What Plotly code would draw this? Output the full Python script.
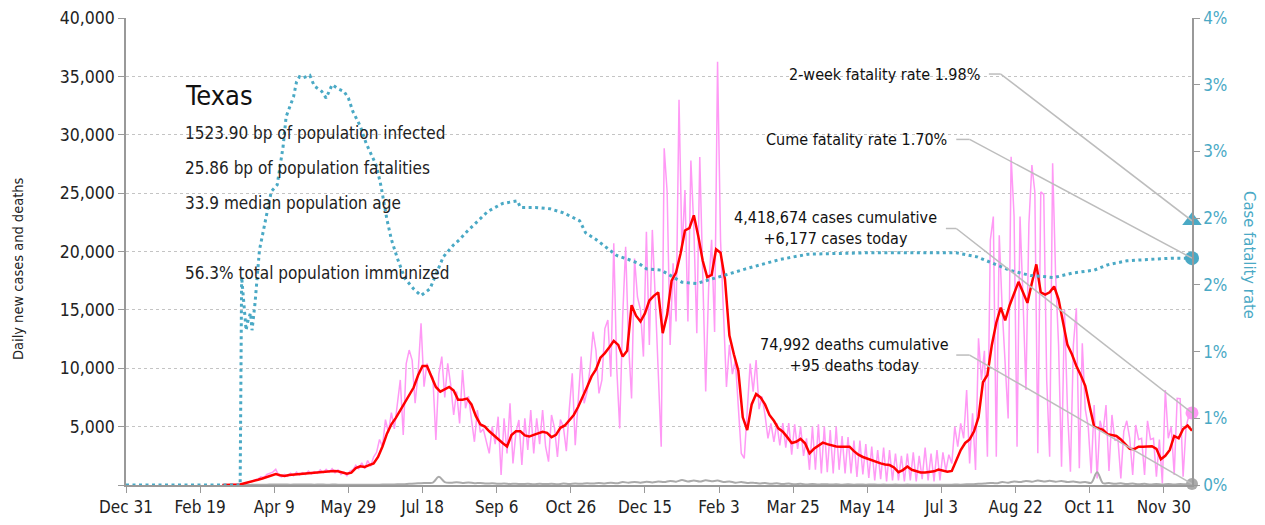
import pandas as pd
import plotly.graph_objects as go

# ---------------- data ----------------
# daily new cases, one sample every 2 days starting 2020-03-05
cases_start = "2020-03-05"
cases_daily = [
    0, 0, 5, 10, 20, 40, 60, 100, 150, 200,
    300, 450, 500, 700, 650, 900, 1000, 1100, 1340, 800,
    700, 900, 750, 1000, 800, 1100, 850, 1050, 900, 1200,
    950, 1150, 1000, 1300, 1050, 1350, 1100, 1400, 1050, 1300,
    900, 1100, 800, 1200, 1300, 1700, 1400, 1900, 1400, 2100,
    1600, 2400, 2800, 3900, 3300, 5600, 4500, 6200, 4800, 7000,
    9000, 4280, 10400, 11560, 10700, 7000, 9560, 13850, 8420, 10400,
    9600, 9200, 3850, 9500, 11000, 7500, 10420, 8600, 6000, 8000,
    5280, 9850, 6570, 7600, 5600, 3700, 6420, 4500, 4800, 3800,
    2710, 5000, 3500, 5850, 860, 5710, 2700, 7000, 1850, 4500,
    5570, 1710, 5710, 3000, 6420, 2700, 5710, 3500, 6420, 3300,
    2000, 6000, 4900, 2400, 5600, 5000, 2900, 6500, 9560, 3400,
    7000, 11000, 7000, 8000, 10000, 13130, 11500, 7850, 9000, 13400,
    14130, 9280, 20700, 10000, 4850, 14400, 20400, 12000, 7420, 19400,
    16100, 15000, 11000, 21700, 12000, 21850, 16000, 9000, 3280, 28840,
    25100, 12000, 19000, 14000, 33000, 20000, 25270, 14000, 27800, 22000,
    13000, 28100, 19000, 8000, 17000, 21000, 13100, 36260, 21000, 14000,
    8400, 12000, 9500, 10700, 6500, 2700, 2280, 6000, 10400, 8000,
    10700, 6500, 7570, 6000, 4000, 5280, 3700, 5300, 3400, 5300,
    3200, 5300, 2600, 5200, 3100, 5000, 2500, 4000, 1300, 5000,
    1300, 5200, 1000, 5000, 1100, 4700, 1000, 5000, 1300, 4200,
    1000, 4100, 1000, 3800, 700, 3800, 900, 3500, 600, 3300,
    400, 3000, 500, 3200, 300, 3000, 400, 2700, 400, 2500,
    300, 2700, 400, 2800, 300, 2500, 500, 3200, 400, 2700,
    300, 3000, 400, 2800, 1200, 2600, 1850, 5000, 3280, 5280,
    4000, 8140, 1850, 6140, 1280, 12560, 9000, 11500, 2430, 21000,
    23000, 2430, 21400, 15000, 10500, 5700, 28120, 23000, 3280, 23000,
    16000, 8140, 22400, 27400, 25100, 2710, 25100, 24900, 9000, 2430,
    27550, 18000, 12000, 1570, 15000, 6500, 1140, 12000, 15130, 1430,
    12130, 6500, 5000, 1000, 6850, 570, 5500, 4500, 6850, 1200,
    6000, 3800, 4000, 570, 4600, 5500, 4000, 860, 5140, 3900,
    4000, 860, 5500, 3900, 4000, 710, 3900, 140, 8140, 4000,
    5000, 860, 7420, 7400, 710, 5000, 6000, 6177,
]

# 7-day average of new cases, one sample every 3 days starting 2020-03-05
avg_start = "2020-03-05"
cases_avg = [
    0, 0, 10, 30, 50, 150, 230, 330, 450, 560,
    700, 850, 930, 830, 780, 850, 890, 920, 950, 980,
    1010, 1050, 1090, 1150, 1190, 1200, 1170, 1070, 960, 1060,
    1450, 1600, 1550, 1700, 1850, 2400, 3300, 4400, 5200, 5750,
    6400, 7050, 7750, 8350, 9400, 10200, 10200, 9300, 8400, 8000,
    8200, 8400, 8100, 7300, 7300, 7400, 6900, 5900, 5200, 5000,
    4600, 4250, 3950, 3600, 3300, 4280, 4600, 4600, 4250, 4150,
    4300, 4450, 4560, 4470, 4100, 4300, 4900, 5100, 5600, 6000,
    6700, 7500, 8400, 9300, 9900, 10900, 11300, 11800, 12350, 12000,
    11000, 11500, 15400, 14500, 14000, 14700, 15800, 16200, 16500, 13000,
    14600, 17500, 18200, 19800, 21800, 22000, 23100, 21300, 19200, 17800,
    18000, 20200, 19900, 17600, 12800, 11200, 9800, 5800, 4700, 6900,
    7800, 7500, 6900, 6000, 5500, 4850, 4570, 4100, 3600, 3700,
    3950, 3570, 2710, 3100, 3400, 3630, 3500, 3400, 3300, 3280,
    3300, 3280, 2900, 2600, 2400, 2250, 2150, 2000, 1850, 1750,
    1710, 1500, 1100, 1280, 1580, 1300, 1170, 1080, 1070, 1110,
    1170, 1320, 1250, 1140, 1200, 2140, 3000, 3600, 3900, 4600,
    5800, 8800, 9420, 12000, 13900, 15200, 14100, 15400, 16400, 17400,
    16500, 15600, 17300, 18900, 16500, 16300, 16500, 17000, 15900, 14000,
    12000, 11200, 10200, 9400, 8500, 6700, 5000, 4850, 4720, 4350,
    4280, 4200, 3900, 3500, 3100, 3070, 3280, 3280, 3300, 3320,
    3100, 2200, 2500, 3000, 4200, 4000, 4800, 5100, 4650,
]

# daily deaths, one sample every 4 days starting 2020-03-07
deaths_start = "2020-03-07"
deaths_daily = [
    0, 0, 0, 5, 10, 15, 25, 30, 40, 35,
    40, 30, 45, 35, 40, 30, 40, 25, 35, 30,
    30, 20, 25, 20, 30, 25, 30, 35, 40, 60,
    60, 100, 130, 150, 180, 200, 700, 250, 200, 230,
    180, 220, 150, 180, 120, 150, 100, 130, 90, 110,
    80, 110, 70, 100, 80, 110, 70, 120, 90, 130,
    100, 150, 120, 170, 130, 200, 150, 250, 200, 260,
    200, 280, 220, 300, 250, 350, 280, 420, 300, 380,
    300, 400, 320, 380, 260, 300, 200, 250, 170, 200,
    130, 170, 100, 140, 80, 120, 60, 100, 50, 80,
    40, 70, 40, 60, 30, 55, 30, 50, 25, 45,
    20, 40, 20, 35, 15, 35, 15, 30, 15, 30,
    15, 30, 20, 40, 30, 60, 60, 110, 120, 180,
    150, 250, 200, 300, 250, 350, 280, 380, 300, 360,
    280, 340, 250, 300, 220, 260, 180, 1100, 150, 170,
    100, 140, 80, 120, 60, 100, 50, 90, 40, 80,
    50, 90, 60, 95,
]

# cumulative case fatality rate (%)
cfr_dates = [
    "2019-12-31", "2020-03-17", "2020-03-18", "2020-03-20", "2020-03-21", "2020-03-22",
    "2020-03-24", "2020-03-25", "2020-03-27", "2020-03-30", "2020-04-03", "2020-04-05",
    "2020-04-07", "2020-04-11", "2020-04-15", "2020-04-17", "2020-04-22", "2020-04-24",
    "2020-04-26", "2020-04-28", "2020-05-03", "2020-05-06", "2020-05-11", "2020-05-14",
    "2020-05-18", "2020-05-22", "2020-05-26", "2020-05-29", "2020-06-01", "2020-06-06",
    "2020-06-10", "2020-06-17", "2020-06-20", "2020-06-24", "2020-06-27", "2020-07-01",
    "2020-07-06", "2020-07-12", "2020-07-17", "2020-07-23", "2020-07-29", "2020-08-01",
    "2020-08-08", "2020-08-12", "2020-08-17", "2020-08-25", "2020-08-31", "2020-09-10",
    "2020-09-20", "2020-09-22", "2020-10-02", "2020-10-12", "2020-10-21", "2020-11-01",
    "2020-11-05", "2020-11-12", "2020-11-19", "2020-11-26", "2020-12-04", "2020-12-11",
    "2020-12-16", "2020-12-26", "2021-01-09", "2021-01-19", "2021-02-03", "2021-02-21",
    "2021-03-16", "2021-04-04", "2021-05-13", "2021-06-27", "2021-07-13", "2021-07-27",
    "2021-08-05", "2021-08-18", "2021-09-01", "2021-09-17", "2021-09-30", "2021-10-14",
    "2021-10-23", "2021-11-05", "2021-11-19", "2021-12-05", "2021-12-19",
]
cfr_pct = [
    0, 0, 1.56, 1.27, 1.16, 1.22,
    1.29, 1.16, 1.36, 1.76, 1.99, 2.10,
    2.20, 2.25, 2.54, 2.76, 2.91, 3.02,
    3.06, 3.05, 3.07, 2.99, 2.95, 2.90,
    3.00, 2.97, 2.95, 2.90, 2.80, 2.69,
    2.56, 2.39, 2.24, 1.99, 1.84, 1.70,
    1.55, 1.47, 1.42, 1.47, 1.64, 1.71,
    1.80, 1.84, 1.90, 1.99, 2.05, 2.11,
    2.13, 2.08, 2.08, 2.07, 2.04, 1.98,
    1.89, 1.84, 1.78, 1.72, 1.69, 1.66,
    1.62, 1.61, 1.52, 1.51, 1.56, 1.62,
    1.69, 1.73, 1.74, 1.74, 1.74, 1.71,
    1.67, 1.61, 1.57, 1.555, 1.59, 1.61,
    1.65, 1.68, 1.69, 1.70, 1.70,
]

state = "Texas"
stat_lines = [
    "1523.90 bp of population infected",
    "25.86 bp of population fatalities",
    "33.9 median population age",
    "56.3% total population immunized",
]
last_date = "2021-12-19"
first_date = "2019-12-31"
twoweek_cfr = 1.98
cume_cfr = 1.70
cases_today = 6177
deaths_today = 95
cases_cum = 4418674
deaths_cum = 74992

left_ticks = [0, 5000, 10000, 15000, 20000, 25000, 30000, 35000, 40000]
left_ticktext = ["", "5,000", "10,000", "15,000", "20,000", "25,000", "30,000", "35,000", "40,000"]
right_ticks = [0, 0.5, 1.0, 1.5, 2.0, 2.5, 3.0, 3.5]
right_ticktext = ["0%", "1%", "1%", "2%", "2%", "3%", "3%", "4%"]

# ---------------- style ----------------
FONT = "DejaVu Sans Condensed, Liberation Sans Narrow, Liberation Sans, sans-serif"
TEAL = "#4aa9c5"
PINK = "#ff99f5"
RED = "#ff0000"
GRAY = "#aaaaaa"
AXIS = "#999999"
LEADER = "#bdbdbd"

x_cases = pd.date_range(cases_start, periods=len(cases_daily), freq="2D")
x_avg = pd.date_range(avg_start, periods=len(cases_avg), freq="3D")
x_deaths = pd.date_range(deaths_start, periods=len(deaths_daily), freq="4D")

fig = go.Figure()
fig.add_trace(go.Scatter(x=x_cases, y=cases_daily, mode="lines",
                         line=dict(color=PINK, width=1.5), hoverinfo="skip"))
fig.add_trace(go.Scatter(x=x_deaths, y=deaths_daily, mode="lines",
                         line=dict(color=GRAY, width=2, shape="spline"), hoverinfo="skip"))
fig.add_trace(go.Scatter(x=x_avg, y=cases_avg, mode="lines",
                         line=dict(color=RED, width=2.5), hoverinfo="skip"))
fig.add_trace(go.Scatter(x=pd.to_datetime(cfr_dates), y=cfr_pct, mode="lines", yaxis="y2",
                         line=dict(color=TEAL, width=3, dash="3px,3.5px"), hoverinfo="skip"))

# end-point markers
fig.add_trace(go.Scatter(x=[last_date], y=[twoweek_cfr], yaxis="y2", mode="markers",
                         marker=dict(symbol="triangle-up", size=17, color=TEAL),
                         cliponaxis=False, hoverinfo="skip"))
fig.add_trace(go.Scatter(x=[last_date], y=[cume_cfr], yaxis="y2", mode="markers",
                         marker=dict(symbol="circle", size=14, color=TEAL),
                         cliponaxis=False, hoverinfo="skip"))
fig.add_trace(go.Scatter(x=[last_date], y=[cases_today], mode="markers",
                         marker=dict(symbol="circle", size=13, color=PINK),
                         cliponaxis=False, hoverinfo="skip"))
fig.add_trace(go.Scatter(x=[last_date], y=[deaths_today], mode="markers",
                         marker=dict(symbol="circle", size=12, color=GRAY),
                         cliponaxis=False, hoverinfo="skip"))

# ---------------- annotations ----------------
ann = []
ann.append(dict(text=state, xref="paper", yref="paper", x=0.0535, y=0.835,
                xanchor="left", yanchor="middle", showarrow=False,
                font=dict(size=27, color="#111")))
for txt, yy in zip(stat_lines, [0.754, 0.679, 0.604, 0.454]):
    ann.append(dict(text=txt, xref="paper", yref="paper", x=0.0535, y=yy,
                    xanchor="left", yanchor="middle", showarrow=False,
                    font=dict(size=17, color="#222")))

ann.append(dict(text=f"2-week fatality rate {twoweek_cfr:.2f}%", xref="paper", yref="paper",
                x=0.803, y=0.878, xanchor="right", yanchor="middle", showarrow=False,
                font=dict(size=16, color="#111")))
ann.append(dict(text=f"Cume fatality rate {cume_cfr:.2f}%", xref="paper", yref="paper",
                x=0.772, y=0.739, xanchor="right", yanchor="middle", showarrow=False,
                font=dict(size=16, color="#111")))
ann.append(dict(text=f"{cases_cum:,} cases cumulative<br>+{cases_today:,} cases today",
                xref="paper", yref="paper", x=0.666, y=0.550, xanchor="center",
                yanchor="middle", showarrow=False, align="center",
                font=dict(size=16, color="#111")))
ann.append(dict(text=f"{deaths_cum:,} deaths cumulative<br>+{deaths_today:,} deaths today",
                xref="paper", yref="paper", x=0.683, y=0.279, xanchor="center",
                yanchor="middle", showarrow=False, align="center",
                font=dict(size=16, color="#111")))

ann.append(dict(text="Daily new cases and deaths", xref="paper", yref="paper",
                x=-0.1013, y=0.4625, textangle=-90, showarrow=False,
                xanchor="center", yanchor="middle", font=dict(size=14.5, color="#222")))
ann.append(dict(text="Case fatality rate", xref="paper", yref="paper",
                x=1.0544, y=0.4925, textangle=90, showarrow=False,
                xanchor="center", yanchor="middle", font=dict(size=16.5, color=TEAL)))

# leader lines: short horizontal stub next to the text, then a diagonal to the end marker
shapes = []
leaders = [
    # (stub start, stub end, level, axis, target value)
    ("2021-08-04", "2021-08-12", 3.08, "y2", twoweek_cfr),
    ("2021-07-13", "2021-07-22", 2.59, "y2", cume_cfr),
    ("2021-07-06", "2021-07-13", 21970, "y", cases_today),
    ("2021-07-13", "2021-07-22", 11130, "y", deaths_today),
]
for s0, s1, lvl, ax, target in leaders:
    shapes.append(dict(type="line", xref="x", yref=ax, x0=s0, x1=s1, y0=lvl, y1=lvl,
                       line=dict(color=LEADER, width=1.5), layer="above"))
    shapes.append(dict(type="line", xref="x", yref=ax, x0=s1, x1=last_date, y0=lvl, y1=target,
                       line=dict(color=LEADER, width=1.5), layer="above"))

# the page body has an 8px margin, so the figure is sized to end at the window edge
fig.update_layout(
    width=1257, height=517,
    margin=dict(l=118, r=73, t=10, b=40, autoexpand=False),
    paper_bgcolor="white", plot_bgcolor="white",
    showlegend=False,
    font=dict(family=FONT, size=16, color="#222"),
    annotations=ann,
    shapes=shapes,
    xaxis=dict(type="date", range=[first_date, last_date], tick0=first_date,
               dtick=50 * 86400000, tickformat="%b %-d", automargin=False,
               ticklabeloverflow="allow",
               showgrid=False, zeroline=False, showline=True, linecolor=AXIS, linewidth=1.5,
               ticks="outside", ticklen=6, tickcolor=AXIS,
               tickfont=dict(size=17, color="#222")),
    yaxis=dict(range=[0, 40000], tickvals=left_ticks, ticktext=left_ticktext, automargin=False,
               ticklabeloverflow="allow",
               showgrid=True, gridcolor="#c4c4c4", griddash="dot", gridwidth=1,
               zeroline=False, showline=True, linecolor=AXIS, linewidth=1.5,
               ticks="outside", ticklen=6, tickcolor=AXIS,
               tickfont=dict(size=17.5, color="#222")),
    yaxis2=dict(range=[0, 3.5], overlaying="y", side="right", automargin=False,
                ticklabeloverflow="allow",
                tickvals=right_ticks, ticktext=right_ticktext,
                showgrid=False, zeroline=False, showline=True, linecolor=AXIS, linewidth=1.5,
                ticks="outside", ticklen=6, tickcolor=AXIS,
                tickfont=dict(size=17, color=TEAL)),
)

fig.write_html("out.html")
